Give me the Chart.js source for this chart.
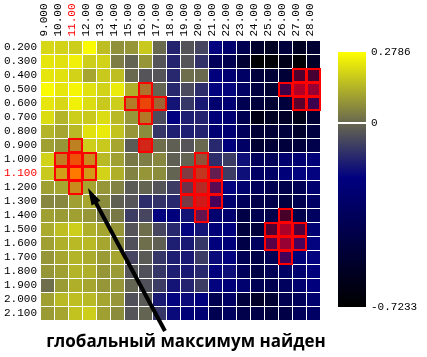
<!DOCTYPE html>
<html><head><meta charset="utf-8">
<script src="https://cdn.jsdelivr.net/npm/chart.js@4/dist/chart.umd.min.js"></script>
<style>html,body{margin:0;padding:0;background:#fff;}canvas{display:block;}</style>
</head><body>
<canvas id="c" width="427" height="357"></canvas>
<script>
// ---------- data ----------
const xLabels = ['9.000','10.00','11.00','12.00','13.00','14.00','15.00','16.00','17.00','18.00',
                 '19.00','20.00','21.00','22.00','23.00','24.00','25.00','26.00','27.00','28.00'];
const yLabels = ['0.200','0.300','0.400','0.500','0.600','0.700','0.800','0.900','1.000','1.100',
                 '1.200','1.300','1.400','1.500','1.600','1.700','1.800','1.900','2.000','2.100'];
const zValues = [
 [0.205,0.196,0.186,0.270,0.159,0.076,0.085,0.177,0.002,-0.143,-0.039,-0.071,-0.210,-0.287,-0.406,-0.545,-0.585,-0.485,-0.585,-0.525],
 [0.232,0.223,0.251,0.186,0.196,0.039,-0.008,0.085,-0.039,-0.143,-0.039,-0.112,-0.367,-0.406,-0.525,-0.7233,-0.703,-0.624,-0.703,-0.565],
 [0.232,0.223,0.196,0.113,0.177,0.159,0.002,-0.039,-0.039,-0.133,0.011,0.002,-0.228,-0.268,-0.327,-0.485,-0.505,-0.505,-0.466,-0.454],
 [0.269,0.232,0.260,0.223,0.196,0.242,0.131,0.085,-0.008,-0.133,-0.060,-0.123,-0.210,-0.205,-0.327,-0.466,-0.525,-0.360,-0.220,-0.244],
 [0.232,0.205,0.251,0.214,0.177,0.186,0.100,0.174,0.050,-0.174,-0.102,-0.164,-0.287,-0.268,-0.406,-0.485,-0.525,-0.485,-0.446,-0.310],
 [0.214,0.140,0.186,0.177,0.214,0.149,0.085,0.098,-0.060,-0.216,-0.154,-0.143,-0.248,-0.268,-0.406,-0.644,-0.585,-0.565,-0.624,-0.505],
 [0.140,0.113,0.149,0.223,0.242,0.168,0.085,0.066,-0.102,-0.154,-0.154,-0.143,-0.268,-0.268,-0.367,-0.505,-0.505,-0.485,-0.545,-0.466],
 [0.103,0.085,0.122,0.186,0.177,0.113,-0.029,0.020,0.011,-0.019,-0.039,0.002,-0.133,-0.228,-0.327,-0.525,-0.505,-0.485,-0.485,-0.426],
 [0.196,0.126,0.203,0.146,0.149,0.103,0.030,0.039,0.057,-0.019,-0.008,0.010,-0.123,-0.091,-0.185,-0.367,-0.367,-0.287,-0.268,-0.248],
 [0.177,0.175,0.2786,0.173,0.196,0.131,0.048,0.085,0.066,-0.008,-0.045,0.030,-0.130,-0.091,-0.185,-0.327,-0.327,-0.248,-0.210,-0.210],
 [0.103,0.113,0.146,0.113,0.085,0.048,-0.029,-0.008,-0.039,-0.091,-0.081,-0.020,-0.185,-0.210,-0.287,-0.367,-0.406,-0.426,-0.386,-0.287],
 [0.057,0.057,0.103,0.113,0.066,-0.019,-0.039,-0.123,-0.112,-0.133,-0.054,-0.030,-0.230,-0.287,-0.367,-0.426,-0.426,-0.466,-0.406,-0.327],
 [0.103,0.094,0.103,0.085,0.030,0.030,-0.091,-0.071,-0.210,-0.228,-0.174,-0.156,-0.287,-0.287,-0.446,-0.406,-0.426,-0.505,-0.426,-0.347],
 [0.122,0.159,0.186,0.131,0.113,0.085,-0.039,0.011,-0.071,-0.133,-0.210,-0.174,-0.248,-0.228,-0.485,-0.485,-0.440,-0.248,-0.380,-0.268],
 [0.103,0.131,0.149,0.149,0.113,0.066,-0.050,0.011,-0.019,-0.154,-0.164,-0.102,-0.228,-0.248,-0.446,-0.347,-0.290,-0.210,-0.210,-0.210],
 [0.085,0.113,0.140,0.122,0.094,0.113,-0.071,-0.029,-0.102,-0.154,-0.164,-0.091,-0.195,-0.210,-0.386,-0.446,-0.386,-0.245,-0.248,-0.210],
 [0.085,0.103,0.140,0.131,0.085,0.094,-0.039,-0.050,-0.102,-0.154,-0.164,-0.133,-0.228,-0.185,-0.367,-0.446,-0.386,-0.327,-0.287,-0.228],
 [0.011,0.094,0.131,0.113,0.085,0.085,-0.008,-0.050,-0.091,-0.174,-0.143,-0.091,-0.210,-0.248,-0.287,-0.386,-0.406,-0.347,-0.287,-0.228],
 [0.103,0.149,0.159,0.149,0.113,0.085,-0.050,-0.029,-0.164,-0.210,-0.195,-0.228,-0.406,-0.327,-0.485,-0.565,-0.525,-0.406,-0.367,-0.287],
 [0.094,0.113,0.168,0.186,0.103,0.066,-0.039,-0.008,-0.102,-0.195,-0.250,-0.268,-0.406,-0.347,-0.426,-0.446,-0.485,-0.446,-0.367,-0.327]
];
// search-agent cells (red overlay) and their intensity
const hitX = ['11.00','10.00','11.00','12.00','10.00','11.00','12.00','11.00',
              '16.00','15.00','16.00','17.00','16.00','16.00',
              '27.00','28.00','26.00','27.00','28.00','27.00','28.00',
              '20.00','19.00','20.00','21.00','19.00','20.00','21.00','19.00','20.00','21.00','20.00',
              '26.00','25.00','26.00','27.00','25.00','26.00','27.00','26.00'];
const hitY = ['0.900','1.000','1.000','1.000','1.100','1.100','1.100','1.200',
              '0.500','0.600','0.600','0.600','0.700','0.900',
              '0.400','0.400','0.500','0.500','0.500','0.600','0.600',
              '1.000','1.100','1.100','1.100','1.200','1.200','1.200','1.300','1.300','1.300','1.400',
              '1.400','1.500','1.500','1.500','1.600','1.600','1.600','1.700'];
const hitAlpha = [0.24,0.28,0.63,0.24,0.20,0.53,0.22,0.24,
                  0.24,0.22,0.65,0.24,0.24,0.67,
                  0.31,0.27,0.24,0.69,0.59,0.35,0.24,
                  0.24,0.28,0.55,0.28,0.24,0.55,0.31,0.24,0.70,0.28,0.31,
                  0.28,0.31,0.67,0.31,0.35,0.59,0.28,0.26];
const colorMax = 0.2786, colorMin = -0.7233;
const cbTicks = [0.2786, 0, -0.7233];
const cbTickLabels = ['0.2786', '0', '-0.7233'];
const bestXLabel = '11.00', bestYLabel = '1.100';
const noteText = 'глобальный максимум найден';
const arrowTail = {x: 8.39, y: 20.25};   // in grid index units
const arrowTip  = {x: 2.89, y: 10.04};

// ---------- colour map ----------
const NAVY_V = -0.216;
function rgbFor(v) {
  if (v >= 0) { const t = Math.min(1, v / colorMax); return [104 + 151*t, 104 + 151*t, 80*(1-t)]; }
  if (v >= NAVY_V) { const t = v / NAVY_V; return [104*(1-t), 104*(1-t), 80 + 48*t]; }
  const t = Math.min(1, (v - NAVY_V) / (colorMin - NAVY_V));
  return [0, 0, 128*(1-t)];
}
function colorFor(v) { const c = rgbFor(v).map(Math.round); return `rgb(${c[0]},${c[1]},${c[2]})`; }

const cells = [], cellColors = [];
yLabels.forEach((yl, j) => xLabels.forEach((xl, i) => {
  cells.push({x: xl, y: yl, v: zValues[j][i]});
  cellColors.push(colorFor(zValues[j][i]));
}));
const hits = hitX.map((x, k) => ({x, y: hitY[k]}));

const MONO = "'Liberation Mono','DejaVu Sans Mono',monospace";
const CELL_R = 6.5 / Math.SQRT1_2;   // 13px squares

const colorbarPlugin = {
  id: 'colorbar',
  afterDraw(chart) {
    const s = chart.scales.cb, ctx = chart.ctx;
    const x0 = s.left + 17.5, w = 28;
    const yTop = s.getPixelForValue(colorMax), yBot = s.getPixelForValue(colorMin);
    const g = ctx.createLinearGradient(0, yTop, 0, yBot);
    [colorMax, 0, NAVY_V, colorMin].forEach(v => g.addColorStop((colorMax - v)/(colorMax - colorMin), colorFor(v)));
    ctx.save();
    ctx.fillStyle = g;
    ctx.fillRect(x0, yTop, w, yBot - yTop);
    ctx.fillStyle = '#fff';
    const y0 = s.getPixelForValue(0);
    ctx.fillRect(x0, Math.round(y0) - 1, w, 2);
    ctx.restore();
  }
};

const notePlugin = {
  id: 'note',
  afterDraw(chart) {
    const ctx = chart.ctx, sx = chart.scales.x, sy = chart.scales.y;
    const x1 = sx.getPixelForValue(arrowTail.x), y1 = sy.getPixelForValue(arrowTail.y);
    const x2 = sx.getPixelForValue(arrowTip.x), y2 = sy.getPixelForValue(arrowTip.y);
    const dx = x2 - x1, dy = y2 - y1, L = Math.hypot(dx, dy), ux = dx/L, uy = dy/L;
    const headLen = 17, headW = 5;
    const bx = x2 - ux*headLen, by = y2 - uy*headLen;
    ctx.save();
    ctx.strokeStyle = '#000'; ctx.fillStyle = '#000';
    ctx.lineWidth = 4; ctx.lineCap = 'butt';
    ctx.beginPath(); ctx.moveTo(x1, y1); ctx.lineTo(bx + ux*2, by + uy*2); ctx.stroke();
    ctx.beginPath();
    ctx.moveTo(x2, y2);
    ctx.lineTo(bx - uy*headW, by + ux*headW);
    ctx.lineTo(bx + uy*headW, by - ux*headW);
    ctx.closePath(); ctx.fill();
    ctx.font = "bold 17px 'Open Sans', 'Noto Sans', sans-serif";
    ctx.textAlign = 'center'; ctx.textBaseline = 'alphabetic';
    ctx.fillText(noteText, 186, 347);
    ctx.restore();
  }
};

new Chart(document.getElementById('c'), {
  type: 'scatter',
  data: {
    datasets: [
      { label: 'hits', data: hits, order: 0, clip: false,
        pointStyle: 'rect', pointRadius: CELL_R, pointHoverRadius: CELL_R,
        backgroundColor: hitAlpha.map(a => `rgba(255,0,0,${a})`),
        borderColor: 'rgb(255,0,0)', borderWidth: 2, pointBorderWidth: 2, pointHoverBorderWidth: 2 },
      { label: 'values', data: cells, order: 1, clip: false,
        pointStyle: 'rect', pointRadius: CELL_R, pointHoverRadius: CELL_R,
        backgroundColor: cellColors, borderWidth: 0, pointBorderWidth: 0, pointHoverBorderWidth: 0 }
    ]
  },
  options: {
    responsive: false, animation: false, devicePixelRatio: 1, events: [],
    layout: { padding: { left: 0, right: 0, top: 0, bottom: 36.5 } },
    plugins: { legend: { display: false }, tooltip: { enabled: false } },
    scales: {
      x: { type: 'category', labels: xLabels, position: 'top', offset: true,
           grid: { display: false, drawTicks: false }, border: { display: false },
           ticks: { autoSkip: false, minRotation: 90, maxRotation: 90, padding: 4, labelOffset: 9.5,
                    font: { family: MONO, size: 11 },
                    color: c => xLabels[c.index] === bestXLabel ? '#ff0000' : '#000000' },
           afterFit: s => { s.height = 40.5; } },
      y: { type: 'category', labels: yLabels, position: 'left', offset: true,
           grid: { display: false, drawTicks: false }, border: { display: false },
           ticks: { autoSkip: false, padding: 3.5, font: { family: MONO, size: 11 },
                    color: c => yLabels[c.index] === bestYLabel ? '#ff0000' : '#000000' },
           afterFit: s => { s.width = 40.5; } },
      cb: { type: 'linear', position: 'right', min: -0.77634, max: 0.32378,
            grid: { display: true, drawOnChartArea: false, drawTicks: true, tickLength: 47, color: 'rgba(0,0,0,0)' },
            border: { display: false },
            afterBuildTicks: s => { s.ticks = cbTicks.map(v => ({ value: v })); },
            ticks: { padding: 3.5, font: { family: MONO, size: 11 }, color: '#000000',
                     callback: (v, i) => cbTickLabels[i] },
            afterFit: s => { s.width = 106.5; } }
    }
  },
  plugins: [colorbarPlugin, notePlugin]
});
</script>
</body></html>
